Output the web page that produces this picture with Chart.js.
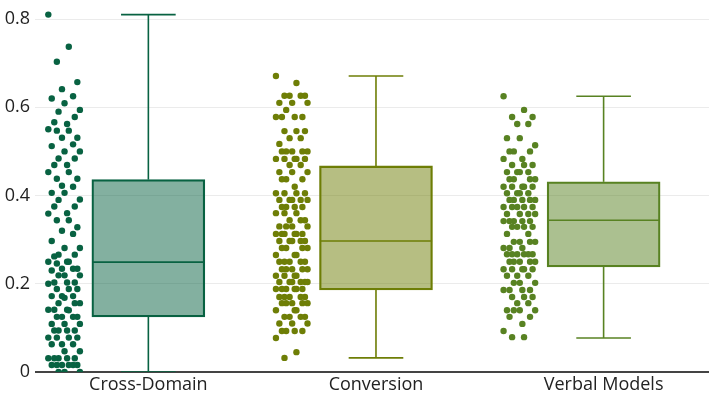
<!DOCTYPE html>
<html>
<head>
<meta charset="utf-8">
<script src="https://cdn.jsdelivr.net/npm/chart.js@4/dist/chart.umd.min.js"></script>
<style>
  body { margin: 0; background: #fff; }
  #wrap { width: 713px; height: 396px; }
</style>
</head>
<body>
<div id="wrap"><canvas id="chart" width="713" height="396"></canvas></div>
<script>
let categories = ["Cross-Domain", "Conversion", "Verbal Models"];

let crossVals = [0.81, 0.737, 0.703, 0.657, 0.641, 0.625, 0.62, 0.609, 0.594, 0.59, 0.578, 0.566, 0.562, 0.55, 0.547, 0.547,
  0.531, 0.531, 0.516, 0.512, 0.5, 0.5, 0.484, 0.484, 0.469, 0.469, 0.453, 0.453, 0.438, 0.438, 0.422, 0.42, 0.406, 0.406,
  0.391, 0.39, 0.375, 0.375, 0.36, 0.359, 0.344, 0.344, 0.328, 0.32, 0.313, 0.297, 0.281, 0.281, 0.266, 0.266, 0.262,
  0.25, 0.25, 0.25, 0.246, 0.234, 0.234, 0.234, 0.23, 0.219, 0.219, 0.219, 0.203, 0.203, 0.203, 0.2, 0.188, 0.188, 0.188,
  0.172, 0.172, 0.172, 0.168, 0.156, 0.156, 0.156, 0.141, 0.141, 0.141, 0.14, 0.125, 0.125, 0.125, 0.125, 0.109, 0.109,
  0.109, 0.094, 0.094, 0.094, 0.094, 0.078, 0.078, 0.078, 0.078, 0.063, 0.063, 0.063, 0.047, 0.047, 0.031, 0.031, 0.031,
  0.031, 0.031, 0.016, 0.016, 0.016, 0.016, 0.016, 0.016, 0, 0, 0];

let conversionVals = [0.671, 0.655, 0.626, 0.626, 0.626, 0.626, 0.61, 0.61, 0.61, 0.594, 0.578, 0.578, 0.578, 0.578,
  0.546, 0.546, 0.546, 0.53, 0.53, 0.517, 0.5, 0.5, 0.5, 0.5, 0.5, 0.483, 0.483, 0.483, 0.483, 0.483, 0.469, 0.469,
  0.453, 0.453, 0.453, 0.437, 0.437, 0.437, 0.42, 0.405, 0.405, 0.405, 0.405, 0.39, 0.39, 0.39, 0.39, 0.39,
  0.374, 0.374, 0.374, 0.374, 0.36, 0.36, 0.36, 0.344, 0.344, 0.344, 0.33, 0.33, 0.33, 0.33,
  0.313, 0.313, 0.313, 0.313, 0.313, 0.313, 0.297, 0.297, 0.297, 0.297, 0.297, 0.281, 0.281, 0.281, 0.281,
  0.265, 0.265, 0.265, 0.25, 0.25, 0.25, 0.25, 0.25, 0.233, 0.233, 0.233, 0.233, 0.233, 0.218, 0.218, 0.218, 0.218,
  0.204, 0.204, 0.204, 0.204, 0.204, 0.204, 0.188, 0.188, 0.188, 0.188, 0.188, 0.188, 0.17, 0.17, 0.17, 0.17, 0.17,
  0.156, 0.156, 0.156, 0.156, 0.156, 0.14, 0.14, 0.14, 0.125, 0.125, 0.125, 0.125, 0.11, 0.11, 0.11,
  0.093, 0.093, 0.093, 0.093, 0.077, 0.045, 0.032];

let verbalVals = [0.625, 0.594, 0.578, 0.578, 0.562, 0.562, 0.53, 0.53, 0.514, 0.5, 0.5, 0.5, 0.483, 0.483,
  0.469, 0.469, 0.469, 0.453, 0.453, 0.453, 0.453, 0.437, 0.437, 0.437, 0.437, 0.42, 0.42, 0.42, 0.42, 0.42,
  0.405, 0.405, 0.405, 0.405, 0.39, 0.39, 0.39, 0.39, 0.39, 0.374, 0.374, 0.374, 0.374, 0.374,
  0.358, 0.358, 0.358, 0.358, 0.342, 0.342, 0.342, 0.342, 0.342, 0.329, 0.329, 0.329, 0.329, 0.313, 0.313,
  0.295, 0.295, 0.295, 0.295, 0.281, 0.281, 0.281, 0.267, 0.267, 0.267, 0.267, 0.267, 0.267,
  0.25, 0.25, 0.25, 0.25, 0.25, 0.233, 0.233, 0.233, 0.233, 0.233, 0.218, 0.218, 0.218, 0.202, 0.202, 0.202,
  0.186, 0.186, 0.186, 0.186, 0.17, 0.17, 0.17, 0.156, 0.156, 0.14, 0.14, 0.14, 0.14, 0.125, 0.125,
  0.109, 0.093, 0.079, 0.079];

// box statistics
let boxMin = [0, 0.032, 0.077];
let boxQ1 = [0.125, 0.186, 0.238];
let boxMed = [0.249, 0.297, 0.344];
let boxQ3 = [0.436, 0.467, 0.431];
let boxMax = [0.81, 0.671, 0.625];

let yTicks = [0, 0.2, 0.4, 0.6, 0.8];

let allVals = [crossVals, conversionVals, verbalVals];
let colors = ["rgb(8,98,66)", "rgb(110,126,6)", "rgb(88,130,34)"];
let fills = ["rgba(8,98,66,0.5)", "rgba(110,126,6,0.5)", "rgba(88,130,34,0.5)"];

// jitter spread for the points, cycled
let jitter = [-0.9, 0.3, -0.4, 0.8, -0.1, 0.55, -0.7, 0.05, 0.95, -0.3, 0.65, -0.55, 0.2];
let pointShift = -0.372;
let jitterWidth = 0.075;
let halfBox = 0.2465;
let halfCap = 0.12;

let datasets = [];

categories.forEach((c, i) => {
  datasets.push({
    type: "scatter",
    data: allVals[i].map((v, k) => ({ x: i + pointShift + jitter[k % jitter.length] * jitterWidth, y: v })),
    backgroundColor: colors[i],
    borderWidth: 0,
    pointRadius: 3.2,
  });
  let lines = [
    [{ x: i - halfBox, y: boxMed[i] }, { x: i + halfBox, y: boxMed[i] }],
    [{ x: i, y: boxQ3[i] }, { x: i, y: boxMax[i] }],
    [{ x: i, y: boxQ1[i] }, { x: i, y: boxMin[i] }],
    [{ x: i - halfCap, y: boxMax[i] }, { x: i + halfCap, y: boxMax[i] }],
    [{ x: i - halfCap, y: boxMin[i] }, { x: i + halfCap, y: boxMin[i] }],
  ];
  lines.forEach((l) => {
    datasets.push({
      type: "line",
      data: l,
      borderColor: colors[i],
      borderWidth: 1.6,
      pointRadius: 0,
      fill: false,
    });
  });
});

datasets.push({
  type: "bar",
  data: categories.map((c, i) => ({ x: i, y: [boxQ1[i], boxQ3[i]] })),
  backgroundColor: fills,
  borderColor: colors,
  borderWidth: 1.6,
  borderSkipped: false,
  barThickness: 113,
  order: 10,
});

new Chart("chart", {
  type: "scatter",
  data: { datasets: datasets },
  options: {
    responsive: false,
    animation: false,
    layout: { padding: { top: 6, left: 0, right: 0, bottom: 0 } },
    plugins: { legend: { display: false }, tooltip: { enabled: false } },
    scales: {
      x: {
        type: "linear",
        offset: false,
        min: -0.498,
        max: 2.463,
        grid: { display: false, drawTicks: false },
        border: { display: false },
        afterBuildTicks: (axis) => {
          axis.ticks = categories.map((c, i) => ({ value: i }));
        },
        afterFit: (axis) => {
          axis.height = 24;
          axis.paddingLeft = 0;
          axis.paddingRight = 0;
        },
        ticks: {
          color: "#222",
          padding: 2,
          maxRotation: 0,
          font: { family: "Open Sans", size: 18 },
          callback: (v) => categories[v],
        },
      },
      y: {
        min: 0,
        max: 0.8295,
        border: { display: false },
        afterBuildTicks: (axis) => {
          axis.ticks = yTicks.map((v) => ({ value: v }));
        },
        afterFit: (axis) => {
          axis.width = 35;
          axis.paddingTop = 0;
          axis.paddingBottom = 0;
        },
        grid: {
          drawTicks: false,
          color: (ctx) => (ctx.tick.value === 0 ? "#444" : "#ebebeb"),
          lineWidth: (ctx) => (ctx.tick.value === 0 ? 2 : 1),
        },
        ticks: {
          color: "#222",
          padding: 5,
          font: { family: "Open Sans", size: 18 },
          callback: (v) => (v === 0 ? "0" : v.toFixed(1)),
        },
      },
    },
  },
});
</script>
</body>
</html>
